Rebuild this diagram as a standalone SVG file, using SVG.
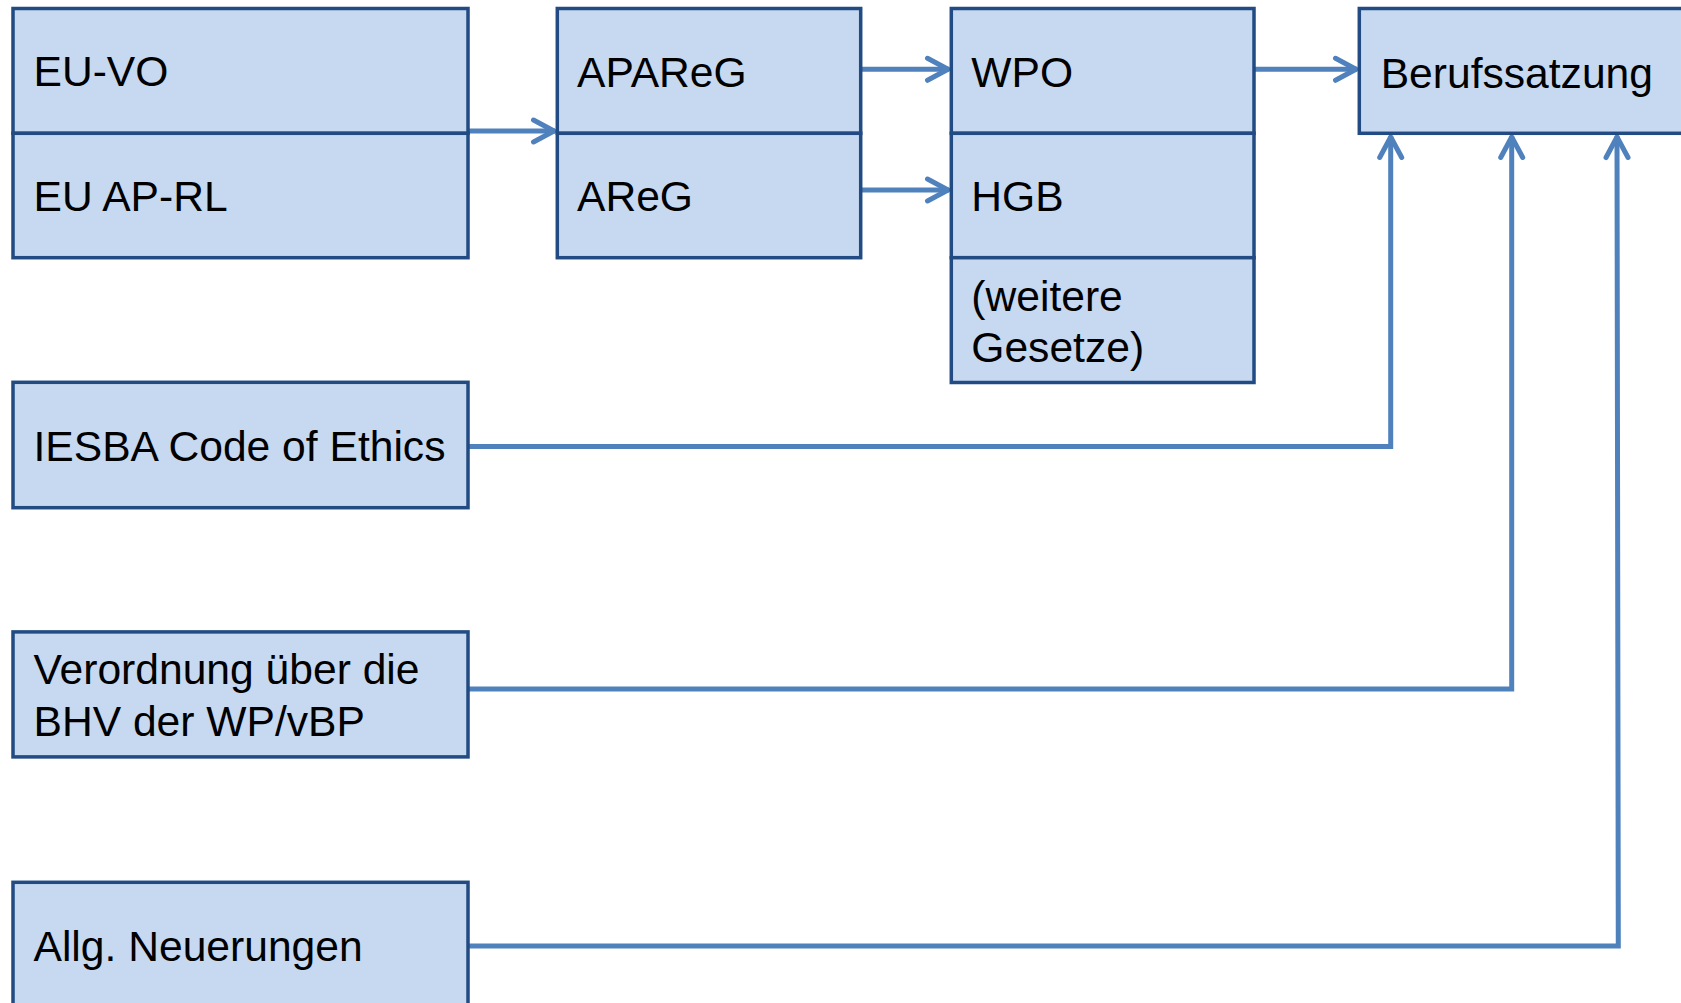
<svg xmlns="http://www.w3.org/2000/svg" width="1681" height="1003" viewBox="0 0 1681 1003">
<defs>
<style>
.box{fill:#c6d9f0;stroke:#214b82;stroke-width:3.5}
.t{font-family:"Liberation Sans",Arial,sans-serif;font-size:42.6px;fill:#000}
.c{fill:none;stroke:#4f81bd;stroke-width:5}
</style>
<marker id="ah" markerUnits="userSpaceOnUse" viewBox="-26 -15 30 30" markerWidth="30" markerHeight="30" refX="0" refY="0" orient="auto">
<path d="M -21.5 -11 L -1 0 L -21.5 11" fill="none" stroke="#4f81bd" stroke-width="5" stroke-linecap="round" stroke-linejoin="round"/>
</marker>
</defs>
<rect width="1681" height="1003" fill="#fff"/>
<g id="connectors">
<path class="c" d="M 468 131 L 555 131" marker-end="url(#ah)"/>
<path class="c" d="M 861 69.3 L 949 69.3" marker-end="url(#ah)"/>
<path class="c" d="M 861 190 L 949 190" marker-end="url(#ah)"/>
<path class="c" d="M 1254 69.3 L 1357 69.3" marker-end="url(#ah)"/>
<path class="c" d="M 468 446.5 L 1390.7 446.5 L 1390.7 136" marker-end="url(#ah)"/>
<path class="c" d="M 468 689 L 1511.7 689 L 1511.7 136" marker-end="url(#ah)"/>
<path class="c" d="M 468 946 L 1618.3 946 L 1617 136" marker-end="url(#ah)"/>
</g>
<g id="eu-vo"><rect class="box" x="13" y="8.5" width="455" height="124.8"/><text class="t" x="33.5" y="86">EU-VO</text></g>
<g id="eu-ap-rl"><rect class="box" x="13" y="133.3" width="455" height="124.4"/><text class="t" x="33.5" y="211">EU AP-RL</text></g>
<g id="apareg"><rect class="box" x="557.3" y="8.5" width="303.4" height="124.8"/><text class="t" x="577" y="87">APAReG</text></g>
<g id="areg"><rect class="box" x="557.3" y="133.3" width="303.4" height="124.4"/><text class="t" x="577" y="211">AReG</text></g>
<g id="wpo"><rect class="box" x="951.3" y="8.5" width="302.7" height="124.8"/><text class="t" x="971.3" y="87">WPO</text></g>
<g id="hgb"><rect class="box" x="951.3" y="133.3" width="302.7" height="124.4"/><text class="t" x="971.3" y="211">HGB</text></g>
<g id="weitere"><rect class="box" x="951.3" y="257.7" width="302.7" height="124.8"/><text class="t" x="971.3" y="311">(weitere</text><text class="t" x="971.3" y="361.5">Gesetze)</text></g>
<g id="berufssatzung"><rect class="box" x="1359.3" y="8.5" width="340" height="124.8"/><text class="t" x="1380.7" y="87.5">Berufssatzung</text></g>
<g id="iesba"><rect class="box" x="13" y="382.3" width="455" height="125.4"/><text class="t" x="33.5" y="460.5">IESBA Code of Ethics</text></g>
<g id="verordnung"><rect class="box" x="13" y="631.9" width="455" height="125"/><text class="t" x="33.5" y="684">Verordnung über die</text><text class="t" x="33.5" y="735.5">BHV der WP/vBP</text></g>
<g id="allg"><rect class="box" x="13" y="882.3" width="455" height="140"/><text class="t" x="33.5" y="960.5">Allg. Neuerungen</text></g>
</svg>
